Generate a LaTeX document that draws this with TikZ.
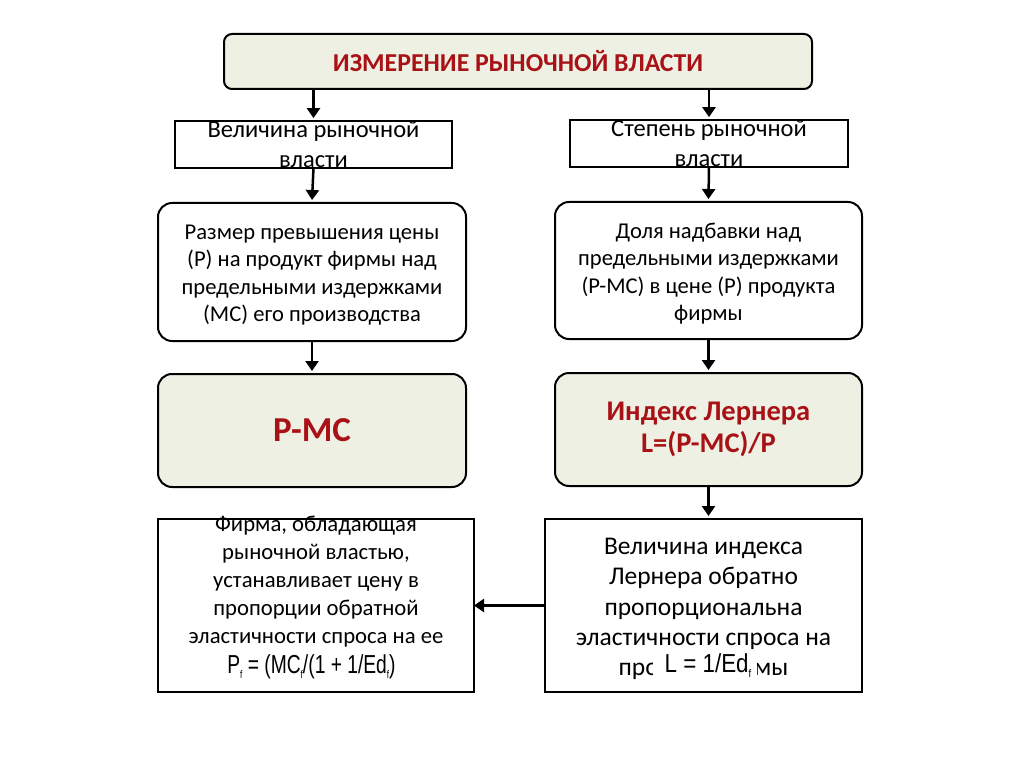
\documentclass[tikz,border=0pt]{standalone}
\usepackage{fontspec}
\setmainfont{Carlito}
\newfontfamily\formfont[FakeStretch=0.74]{Liberation Sans}
\newfontfamily\formfontb[FakeStretch=0.86]{Liberation Sans}
\newcommand{\fsub}{{\fontsize{11}{11}\selectfont\raisebox{-5pt}{f}}}
\usetikzlibrary{arrows.meta}
\definecolor{boxfill}{RGB}{237,240,226}
\definecolor{darkred}{RGB}{168,18,22}
\begin{document}
\begin{tikzpicture}[x=1pt,y=-1pt,
  every node/.style={inner sep=0pt, outer sep=0pt},
  sqbox/.style={draw, line width=2pt, rectangle},
  rbox/.style={draw, line width=2pt, rounded corners=14pt},
  fbox/.style={rbox, fill=boxfill},
  arr/.style={-{Triangle[length=10pt,width=13pt]}, line width=2.5pt},
  txt/.style={align=center, font=\fontsize{22.6}{27.5}\selectfont},
  rtxt/.style={align=center, text=darkred, font=\bfseries\fontsize{28.5}{32}\selectfont},
  ftxt/.style={font=\formfont\fontsize{26}{28}\selectfont}
]
\useasboundingbox (0,0) rectangle (1024,767);
\fill[white] (0,0) rectangle (1024,767);

\node[fbox, rounded corners=8pt, minimum width=588pt, minimum height=55pt,
      text=darkred, font=\bfseries\fontsize{25.8}{28}\selectfont] (title) at (518,61.5) {ИЗМЕРЕНИЕ РЫНОЧНОЙ ВЛАСТИ};

\node[sqbox, minimum width=277pt, minimum height=45pt, txt, font=\fontsize{24.5}{30}\selectfont] (vel) at (313.5,144.5) {Величина рыночной\\власти};
\node[sqbox, minimum width=278pt, minimum height=43pt, txt, font=\fontsize{24.5}{30}\selectfont] (step) at (709,143.5) {Степень рыночной\\власти};

\node[rbox, minimum width=308pt, minimum height=138pt] (def1) at (312,272) {};
\node[txt] (def1t) at (312,275) {Размер превышения цены\\(P) на продукт фирмы над\\предельными издержками\\(MC) его производства};
\node[rbox, minimum width=307pt, minimum height=137pt] (def2) at (708.5,270.5) {};
\node[txt] (def2t) at (708.5,273.5) {Доля надбавки над\\предельными издержками\\(P-MC) в цене (P) продукта\\фирмы};

\node[fbox, minimum width=308pt, minimum height=113pt, rtxt, font=\bfseries\fontsize{35}{36}\selectfont] (pmc) at (312,430.5) {P-MC};
\node[fbox, minimum width=307pt, minimum height=113pt, rtxt] (ler) at (708.5,429.5) {Индекс Лернера\\L=(P-MC)/P};

% bottom left text (under the border)
\node[txt, font=\fontsize{22.7}{28}\selectfont] (bltext) at (316,582) {Фирма, обладающая\\рыночной властью,\\устанавливает цену в\\пропорции обратной\\эластичности спроса на ее};
\node[ftxt] (blform) at (311.5,667) {P\fsub{} = (MC\fsub/(1 + 1/Ed\fsub)};
\node[sqbox, minimum width=316pt, minimum height=173pt] (bl) at (316,605.5) {};

\node[sqbox, minimum width=317pt, minimum height=173pt] (br) at (703.5,605.5) {};
\node[txt, font=\fontsize{25.5}{30.3}\selectfont] (brtext) at (703.5,594) {Величина индекса\\Лернера обратно\\пропорциональна\\эластичности спроса на};
\node[font=\fontsize{25.5}{28}\selectfont] (brlast) at (703.5,669) {продукт фирмы};
\node[fill=white, minimum width=104pt, minimum height=30pt, font=\formfontb\fontsize{26}{28}\selectfont] (brform) at (705,666) {\hspace*{6pt}L = 1/Ed\fsub};

\draw[arr] (vel.north |- title.south) -- ([yshift=3pt]vel.north);
\draw[arr] (step.north |- title.south) -- ([yshift=3pt]step.north);
\draw[arr] (vel.south) -- ([yshift=3pt]def1.north);
\draw[arr] (step.south) -- ([yshift=3pt]def2.north);
\draw[arr] (def1.south) -- ([yshift=3pt]pmc.north);
\draw[arr] (def2.south) -- ([yshift=3pt]ler.north);
\draw[arr] (ler.south) -- ([yshift=3pt]br.north -| ler.south);
\draw[arr] (br.west) -- (bl.east);
\end{tikzpicture}
\end{document}
